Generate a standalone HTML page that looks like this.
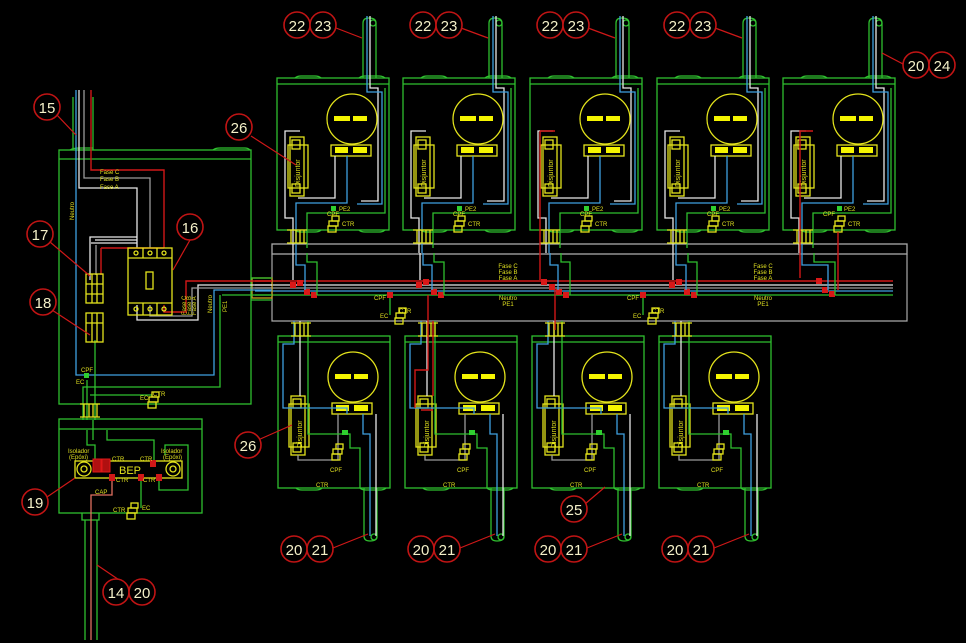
<!DOCTYPE html>
<html><head><meta charset="utf-8"><style>
html,body{margin:0;padding:0;background:#000;}
svg{display:block;}
text{font-family:"Liberation Sans",sans-serif;}
.g{stroke:#2fbf2f;fill:none;stroke-width:1.3}
.y{stroke:#e3e31c;fill:none;stroke-width:1.3}
.w{stroke:#e8e8e8;fill:none;stroke-width:1.3}
.gr{stroke:#9a9a9a;fill:none;stroke-width:1.3}
.r{stroke:#d01818;fill:none;stroke-width:1.4}
.b{stroke:#3fa0e0;fill:none;stroke-width:1.3}
.lb{font-size:6px;fill:#e0e020}
.ly{font-size:7px;fill:#e3e31c}
.c circle{fill:#000;stroke:#c01414;stroke-width:1.6}
.c text{fill:#f4f0c8;font-size:15px;text-anchor:middle}
</style></head><body>
<svg width="966" height="643" viewBox="0 0 966 643" xmlns="http://www.w3.org/2000/svg">
<defs>
<g id="meter">
 <circle class="y" cx="75" cy="41" r="25"/>
 <rect x="57" y="38" width="16" height="5" fill="#f5f500"/>
 <rect x="76" y="38" width="14" height="5" fill="#f5f500"/>
 <rect class="y" x="54" y="67" width="40" height="11"/>
 <rect x="58" y="69" width="13" height="6" fill="#f5f500"/>
 <rect x="76" y="69" width="14" height="6" fill="#f5f500"/>
</g>
<g id="disj">
 <rect class="y" x="13" y="0" width="14" height="59"/>
 <rect class="y" x="11" y="8" width="20" height="43"/>
 <rect class="y" x="15" y="3" width="8" height="9"/>
 <rect class="y" x="15" y="47" width="8" height="9"/>
</g>
<g id="term">
 <path class="y" d="M0,0 H20 M0,13 H20 M4,0 V13 M9,0 V13 M13,0 V13 M17,0 V13"/>
</g>
<g id="ctr">
 <rect class="y" x="0" y="0" width="7" height="5"/>
 <rect class="y" x="-3" y="5" width="9" height="5"/>
 <rect class="y" x="-4" y="10" width="8" height="6"/>
</g>
<g id="top">
 <rect class="g" x="0" y="0" width="112" height="152"/>
 <path class="g" d="M0,6 H112 M18,0 Q20,-2 24,-2 H38 Q42,-2 44,0 M82,0 Q84,-2 88,-2 H102 Q106,-2 108,0 M18,152 Q20,154 24,154 H38 Q42,154 44,152 M82,152 Q84,154 88,154 H102 Q106,154 108,152"/>
 <path class="g" d="M86,0 V-55 Q86,-60 92,-60 Q99,-60 99,-55 V0"/>
 <circle class="g" cx="96" cy="-55" r="3"/>
 <path class="w" d="M93,-62 V10 H101 V123 H84"/>
 <path class="b" d="M90,-62 V14 H105 V126 H80"/>
 <path class="g" d="M108,10 V135 H30 V170"/>
 <use href="#meter"/>
 <use href="#disj" x="0" y="59"/>
 <path class="w" d="M58,78 V120 H21"/>
 <path class="b" d="M70,78 V125 H19 V175"/>
 <path class="w" d="M23,53 H8 V140 H16 V175"/>
 <rect x="54" y="128" width="5" height="5" fill="#2fd02f"/>
 <use href="#ctr" x="55" y="138"/>
 <use href="#term" x="10" y="152"/>
</g>
<g id="bot">
 <rect class="g" x="0" y="0" width="112" height="152"/>
 <path class="g" d="M0,6 H112 M18,152 Q20,154 24,154 H38 Q42,154 44,152 M82,152 Q84,154 88,154 H102 Q106,154 108,152"/>
 <path class="g" d="M86,152 V200 Q86,205 92,205 Q99,205 99,200 V152"/>
 <circle class="g" cx="96" cy="201" r="3"/>
 <use href="#meter"/>
 <use href="#disj" x="0" y="60"/>
 <path class="b" d="M16,-15 V8 H5 V72 H69 V78"/>
 <path class="gr" d="M20,119 V124 H60 V78"/>
 <path class="w" d="M22,-15 V60"/>
 <path class="b" d="M85,78 V98 H92 V200"/>
 <path class="w" d="M98,78 V200"/>
 <path class="g" d="M30,-15 V98 H72 V112 H82 V152"/>
 <rect x="64" y="94" width="6" height="5" fill="#2fd02f"/>
 <use href="#ctr" x="58" y="108"/>
 <use href="#term" x="13" y="-13"/>
</g>
</defs>

<!-- bus -->
<rect class="w" x="272" y="244" width="635" height="10" style="stroke:#aaa"/>
<path d="M272,254 V321 H907 V254" style="stroke:#aaa;fill:none;stroke-width:1.2"/>
<path class="r" d="M255,281 H893"/>
<path class="w" d="M255,285 H893"/>
<path class="gr" d="M255,288 H893"/>
<path class="b" d="M255,291 H893"/>
<path class="g" d="M255,295 H893"/>
<rect x="252" y="278" width="20" height="20" class="y" style="stroke:#c8a020"/>
<g class="lb" text-anchor="middle">
<text x="508" y="268">Fase C</text><text x="508" y="274">Fase B</text><text x="508" y="280">Fase A</text>
<text x="508" y="300">Neutro</text><text x="508" y="306">PE1</text>
<text x="763" y="268">Fase C</text><text x="763" y="274">Fase B</text><text x="763" y="280">Fase A</text>
<text x="763" y="300">Neutro</text><text x="763" y="306">PE1</text>
</g>
<g fill="#d81818">
<rect x="290" y="282" width="6" height="6"/><rect x="297" y="280" width="6" height="6"/><rect x="304" y="289" width="6" height="6"/><rect x="311" y="292" width="6" height="6"/>
<rect x="416" y="282" width="6" height="6"/><rect x="423" y="279" width="6" height="6"/><rect x="431" y="289" width="6" height="6"/><rect x="438" y="292" width="6" height="6"/>
<rect x="541" y="279" width="6" height="6"/><rect x="549" y="284" width="6" height="6"/><rect x="556" y="289" width="6" height="6"/><rect x="563" y="292" width="6" height="6"/>
<rect x="669" y="282" width="6" height="6"/><rect x="676" y="279" width="6" height="6"/><rect x="684" y="289" width="6" height="6"/><rect x="691" y="292" width="6" height="6"/>
<rect x="816" y="278" width="6" height="6"/><rect x="822" y="287" width="6" height="6"/><rect x="829" y="291" width="6" height="6"/>
<rect x="387" y="292" width="6" height="6"/><rect x="640" y="292" width="6" height="6"/>
</g>
<g class="lb"><text x="374" y="300">CPF</text><text x="380" y="318">EC</text><text x="399" y="313">CTR</text>
<text x="627" y="300">CPF</text><text x="633" y="318">EC</text><text x="652" y="313">CTR</text></g>
<use href="#ctr" x="399" y="308"/><use href="#ctr" x="652" y="308"/>
<path class="g" d="M390,298 V315"/><path class="g" d="M643,298 V315"/>

<!-- top units -->
<use href="#top" x="277" y="78"/>
<use href="#top" x="403" y="78"/>
<use href="#top" x="530" y="78"/>
<use href="#top" x="657" y="78"/>
<use href="#top" x="783" y="78"/>
<path class="r" d="M540,131 H555 M540,131 V280 M813,131 H800 V278 M838,232 V290"/>
<path class="w" d="M293,253 V280 M420,253 V280 M673,253 V280"/>
<path class="b" d="M296,253 V265 H305 V290 M423,253 V265 H432 V290 M550,253 V265 H558 V290 M676,253 V265 H686 V290 M802,253 V265 H828 V290"/>
<path class="g" d="M307,253 V262 H317 V295 M434,253 V262 H444 V295 M561,253 V262 H570 V295 M688,253 V262 H697 V295 M814,253 V262 H835 V295"/>
<g class="lb">
<text x="327" y="216">CPF</text><text x="339" y="211">PE2</text><text x="342" y="226">CTR</text>
<text x="453" y="216">CPF</text><text x="465" y="211">PE2</text><text x="468" y="226">CTR</text>
<text x="580" y="216">CPF</text><text x="592" y="211">PE2</text><text x="595" y="226">CTR</text>
<text x="707" y="216">CPF</text><text x="719" y="211">PE2</text><text x="722" y="226">CTR</text>
<text x="823" y="216">CPF</text><text x="844" y="211">PE2</text><text x="848" y="226">CTR</text>
</g>
<g class="ly">
<text transform="translate(300,187) rotate(-90)">Disjuntor</text>
<text transform="translate(426,187) rotate(-90)">Disjuntor</text>
<text transform="translate(553,187) rotate(-90)">Disjuntor</text>
<text transform="translate(680,187) rotate(-90)">Disjuntor</text>
<text transform="translate(806,187) rotate(-90)">Disjuntor</text>
</g>

<!-- bottom units -->
<use href="#bot" x="278" y="336"/>
<use href="#bot" x="405" y="336"/>
<use href="#bot" x="532" y="336"/>
<use href="#bot" x="659" y="336"/>
<path class="r" d="M428,295 V321 M428,321 V370 H415 V408 M555,289 V321 M555,321 V330"/>
<path class="r" d="M433,410 H421 M433,321 V396"/>
<g class="lb">
<text x="330" y="472">CPF</text><text x="316" y="487">CTR</text>
<text x="457" y="472">CPF</text><text x="443" y="487">CTR</text>
<text x="584" y="472">CPF</text><text x="570" y="487">CTR</text>
<text x="711" y="472">CPF</text><text x="697" y="487">CTR</text>
</g>
<g class="ly">
<text transform="translate(302,448) rotate(-90)">Disjuntor</text>
<text transform="translate(429,448) rotate(-90)">Disjuntor</text>
<text transform="translate(556,448) rotate(-90)">Disjuntor</text>
<text transform="translate(683,448) rotate(-90)">Disjuntor</text>
</g>

<!-- left panel -->
<rect class="g" x="59" y="150" width="192" height="254"/>
<path class="g" d="M59,159 H251 M73,150 V97 M93,150 V97 M70,150 Q73,148 80,148 H93 M213,150 Q215,148 220,148 H245 Q248,148 250,150"/>
<path class="b" d="M76,90 V375 H214 V290 H272"/>
<path class="w" d="M79,90 V188 H137 V237 H90 V280 M137,237 V248 M137,305 V320 H198 V285 H272"/>
<path class="gr" d="M84,90 V178 H150 V248 M150,305 V316 H192 V288 H272"/>
<path class="r" d="M91,90 V170 H164 V248 M101,248 H164 M101,248 V275 M164,305 V312 H186 V281 H272"/>
<path class="w" d="M91,243 H137 M95,240 H137"/>
<path class="gr" d="M96,245 V275"/>
<path class="g" d="M222,295 H272 M220,295 V387 H83 V420 M87,380 V420 M95,340 V420 M152,395 H90"/>
<path class="g" d="M251,278 H272 M251,300 H272"/>
<rect class="y" x="128" y="248" width="44" height="67"/>
<path class="y" d="M128,258 H172 M128,303 H172 M143,248 V258 M157,248 V258 M143,303 V315 M157,303 V315"/>
<circle class="y" cx="136" cy="253" r="2"/><circle class="y" cx="150" cy="253" r="2"/><circle class="y" cx="164" cy="253" r="2"/>
<circle class="y" cx="136" cy="309" r="2"/><circle class="y" cx="150" cy="309" r="2"/><circle class="y" cx="164" cy="309" r="2"/>
<rect class="y" x="146" y="272" width="7" height="17"/>
<rect x="86" y="274" width="17" height="29" fill="none" class="y"/>
<path class="y" d="M86,284 H103 M86,294 H103 M92,274 V303 M97,274 V303"/>
<rect x="86" y="313" width="17" height="29" class="y"/>
<path class="y" d="M86,323 H103 M92,313 V342 M97,313 V342"/>
<g class="lb">
<text x="100" y="174">Fase C</text><text x="100" y="181">Fase B</text><text x="100" y="189">Fase A</text>
<text transform="translate(74,220) rotate(-90)">Neutro</text>
<text transform="translate(186,315) rotate(-90)">Fase C</text>
<text transform="translate(191,315) rotate(-90)">Fase B</text>
<text transform="translate(196,315) rotate(-90)">Fase A</text>
<text transform="translate(212,313) rotate(-90)">Neutro</text>
<text transform="translate(227,312) rotate(-90)">PE1</text>
<text x="81" y="372">CPF</text><text x="76" y="384">EC</text>
<text x="140" y="400">EC</text><text x="153" y="396">CTR</text>
</g>
<rect x="84" y="373" width="5" height="5" fill="#2fd02f"/>
<use href="#ctr" x="152" y="392"/>
<use href="#term" x="80" y="404"/>

<!-- BEP box -->
<rect class="g" x="59" y="419" width="143" height="94"/>
<path class="g" d="M59,429 H202 M82,513 V520 H99 V513 M85,520 V640 M97,520 V640 M87,430 V445 H95 V460 M107,430 V440 H154 V462 M93,420 V440 M165,455 V445 H188 V490 H159 V475"/>
<rect class="y" x="75" y="461" width="107" height="17"/>
<circle class="y" cx="84" cy="469" r="7"/><circle class="y" cx="84" cy="469" r="3"/>
<circle class="y" cx="173" cy="469" r="7"/><circle class="y" cx="173" cy="469" r="3"/>
<text x="119" y="474" style="font-size:11px;fill:#e3e31c">BEP</text>
<rect x="93" y="459" width="8" height="13" fill="#b01010" stroke="#e01818"/>
<rect x="102" y="459" width="8" height="13" fill="#b01010" stroke="#e01818"/>
<rect x="150" y="460" width="6" height="7" fill="#d01818"/>
<rect x="109" y="474" width="6" height="7" fill="#d01818"/>
<rect x="138" y="474" width="6" height="7" fill="#d01818"/>
<rect x="156" y="474" width="6" height="7" fill="#d01818"/>
<path d="M112,481 V495 H91 V640" stroke="#e07060" fill="none" stroke-width="1.3"/>
<path class="g" d="M141,481 V508"/>
<g class="lb">
<text x="68" y="453">Isolador</text><text x="69" y="459">(Epóxi)</text>
<text x="161" y="453">Isolador</text><text x="163" y="459">(Epóxi)</text>
<text x="112" y="461">CTR</text><text x="140" y="461">CTR</text>
<text x="116" y="482">CTR</text><text x="143" y="482">CTR</text>
<text x="95" y="494">CAP</text><text x="113" y="512">CTR</text><text x="142" y="510">EC</text>
</g>
<use href="#ctr" x="131" y="503"/>

<!-- leader lines -->
<g class="r" style="stroke-width:1.2">
<path d="M56,114 L76,135"/><path d="M251,136 L296,165"/><path d="M50,242 L90,276"/>
<path d="M190,240 L173,270"/><path d="M52,310 L90,335"/><path d="M258,440 L292,425"/>
<path d="M47,497 L75,478"/><path d="M128,586 L97,565"/><path d="M336,28 L362,38"/>
<path d="M461,28 L488,38"/><path d="M588,28 L615,38"/><path d="M715,28 L742,38"/>
<path d="M903,64 L882,53"/><path d="M333,548 L368,534"/><path d="M460,548 L495,534"/>
<path d="M587,548 L622,534"/><path d="M714,548 L749,534"/><path d="M585,504 L605,487"/>
</g>
<!-- callouts -->
<g class="c">
<circle cx="297" cy="25" r="13"/><text x="297" y="31">22</text><circle cx="323" cy="25" r="13"/><text x="323" y="31">23</text>
<circle cx="423" cy="25" r="13"/><text x="423" y="31">22</text><circle cx="449" cy="25" r="13"/><text x="449" y="31">23</text>
<circle cx="550" cy="25" r="13"/><text x="550" y="31">22</text><circle cx="576" cy="25" r="13"/><text x="576" y="31">23</text>
<circle cx="677" cy="25" r="13"/><text x="677" y="31">22</text><circle cx="703" cy="25" r="13"/><text x="703" y="31">23</text>
<circle cx="916" cy="65" r="13"/><text x="916" y="71">20</text><circle cx="942" cy="65" r="13"/><text x="942" y="71">24</text>
<circle cx="47" cy="107" r="13"/><text x="47" y="113">15</text>
<circle cx="239" cy="127" r="13"/><text x="239" y="133">26</text>
<circle cx="40" cy="234" r="13"/><text x="40" y="240">17</text>
<circle cx="190" cy="227" r="13"/><text x="190" y="233">16</text>
<circle cx="43" cy="302" r="13"/><text x="43" y="308">18</text>
<circle cx="248" cy="445" r="13"/><text x="248" y="451">26</text>
<circle cx="35" cy="502" r="13"/><text x="35" y="508">19</text>
<circle cx="116" cy="592" r="13"/><text x="116" y="598">14</text><circle cx="142" cy="592" r="13"/><text x="142" y="598">20</text>
<circle cx="574" cy="509" r="13"/><text x="574" y="515">25</text>
<circle cx="294" cy="549" r="13"/><text x="294" y="555">20</text><circle cx="320" cy="549" r="13"/><text x="320" y="555">21</text>
<circle cx="421" cy="549" r="13"/><text x="421" y="555">20</text><circle cx="447" cy="549" r="13"/><text x="447" y="555">21</text>
<circle cx="548" cy="549" r="13"/><text x="548" y="555">20</text><circle cx="574" cy="549" r="13"/><text x="574" y="555">21</text>
<circle cx="675" cy="549" r="13"/><text x="675" y="555">20</text><circle cx="701" cy="549" r="13"/><text x="701" y="555">21</text>
</g>
</svg>
</body></html>
